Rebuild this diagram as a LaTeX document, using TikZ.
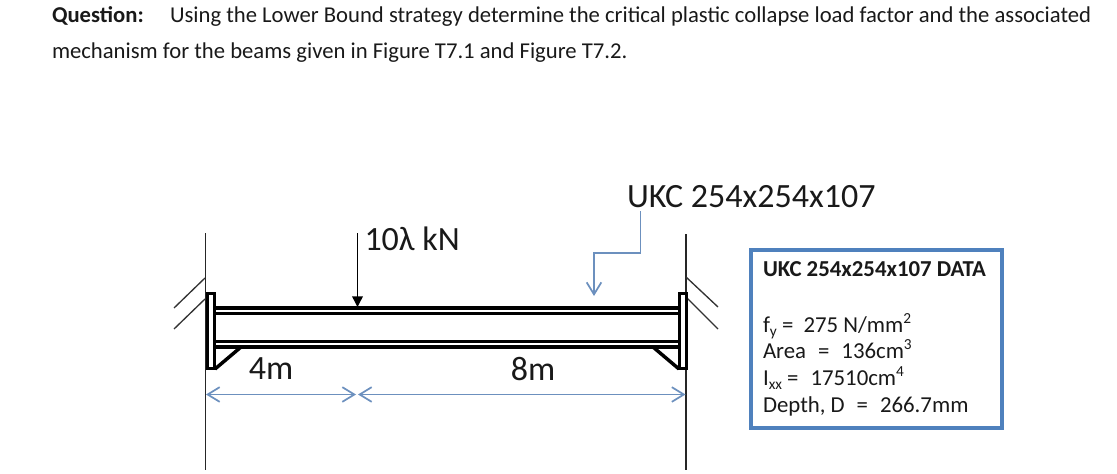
\documentclass[tikz,border=0pt]{standalone}
\usepackage{fontspec}
\setmainfont{Carlito}
\usetikzlibrary{arrows.meta}
\definecolor{dimblue}{HTML}{6C90BE}
\definecolor{boxblue}{HTML}{4F81BD}
\newcommand{\supx}[1]{\raisebox{.36em}{\fontsize{11.5pt}{11.5pt}\selectfont #1}}
\newcommand{\subx}[1]{\raisebox{-.2em}{\fontsize{11.5pt}{11.5pt}\selectfont #1}}
\tikzset{
  txt/.style={inner sep=0pt,outer sep=0pt,text=black!90},
  para/.style={txt,anchor=base west,font=\fontsize{17pt}{17pt}\selectfont},
  biglabel/.style={txt,font=\fontsize{25.5pt}{25.5pt}\selectfont},
  datatxt/.style={txt,anchor=base west,font=\fontsize{17.1pt}{17.1pt}\selectfont},
  wall/.style={draw=black!85,line width=1.2pt},
  hatch/.style={draw=black!80,line width=1pt},
  flange/.style={draw=black,line width=2.9pt},
  plate/.style={draw=black,line width=2.4pt},
  gusset/.style={draw=black,line width=2.6pt},
  loadarrow/.style={draw=black,line width=1.1pt,-{Stealth[length=8pt,width=8pt,inset=0pt]}},
  dimline/.style={draw=dimblue,line width=1.3pt,{Straight Barb[length=9pt,width=11pt,line width=1.3pt]}-{Straight Barb[length=9pt,width=11pt,line width=1.3pt]}},
  callout/.style={draw=dimblue,line width=1.3pt,-{Straight Barb[length=9pt,width=11pt,line width=1.3pt]}},
  databox/.style={draw=boxblue,line width=3pt,fill=white,inner sep=0pt}
}
\begin{document}
\begin{tikzpicture}[x=0.75pt,y=-0.75pt]
\useasboundingbox (0,0) rectangle (1117,474);
% text
\node[para] (q) at (52,23) {\textbf{Question:}};
\node[para] (q1) at (170,23) {Using the Lower Bound strategy determine the critical plastic collapse load factor and the associated};
\node[para] (q2) at (52,59) {mechanism for the beams given in Figure T7.1 and Figure T7.2.};
% walls
\coordinate (lwt) at (205.5,233);
\coordinate (lwb) at (205.5,470);
\coordinate (rwt) at (686,234);
\coordinate (rwb) at (686,470);
\draw[wall] (lwt) -- (lwb);
\draw[wall] (rwt) -- (rwb);
% hatches
\coordinate (lh1a) at (205,278); \coordinate (lh1b) at (174,308);
\coordinate (lh2a) at (205,299); \coordinate (lh2b) at (174,329);
\coordinate (rh1a) at (686,277); \coordinate (rh1b) at (718,307);
\coordinate (rh2a) at (687,298); \coordinate (rh2b) at (718,329);
\draw[hatch] (lh1a) -- (lh1b);
\draw[hatch] (lh2a) -- (lh2b);
\draw[hatch] (rh1a) -- (rh1b);
\draw[hatch] (rh2a) -- (rh2b);
% end plates
\draw[plate,fill=white] (207.5,293.5) rectangle (214.5,368.5);
\draw[plate,fill=white] (679.5,293.5) rectangle (686.5,368.5);
% flanges
\coordinate (tl1) at (215,308); \coordinate (tr1) at (679,308);
\coordinate (tl2) at (215,313.5); \coordinate (tr2) at (679,313.5);
\coordinate (bl1) at (215,341.5); \coordinate (br1) at (679,341.5);
\coordinate (bl2) at (215,347); \coordinate (br2) at (679,347);
\draw[flange] (tl1) -- (tr1);
\draw[flange] (tl2) -- (tr2);
\draw[flange] (bl1) -- (br1);
\draw[flange] (bl2) -- (br2);
% gussets
\coordinate (gl1) at (215,369); \coordinate (gl2) at (241,347);
\coordinate (gr1) at (653,347); \coordinate (gr2) at (679,369);
\draw[gusset] (gl1) -- (gl2);
\draw[gusset] (gr1) -- (gr2);
% load
\coordinate (lt) at (357.5,233);
\coordinate (lb) at (357.5,307);
\draw[loadarrow] (lt) -- (lb);
\node[biglabel,anchor=west] (load) at (364.5,239) {10λ kN};
% dims
\coordinate (d1) at (206,394.5);
\coordinate (d2) at (356,394.5);
\coordinate (d3) at (358,394.5);
\coordinate (d4) at (685.5,394.5);
\draw[dimline] (d1) -- (d2);
\draw[dimline] (d3) -- (d4);
\node[biglabel] (dl) at (271,369) {4m};
\node[biglabel] (dr) at (533,369) {8m};
% section callout
\node[biglabel,anchor=west] (ukc) at (627,197) {UKC 254x254x107};
\coordinate (ct) at (640.5,211);
\coordinate (cm1) at (640.5,253);
\coordinate (cm2) at (594,253);
\coordinate (cb) at (594,296);
\draw[callout] (ct) -- (cm1) -- (cm2) -- (cb);
% data box
\draw[databox] (750.5,250) rectangle (1002,428);
\node[datatxt,font=\fontsize{17.1pt}{17.1pt}\selectfont\bfseries] (dt) at (763,276) {UKC 254x254x107 DATA};
\node[datatxt] (d1t) at (763,332) {f\subx{y} =\hspace{.22em} 275 N/mm\supx{2}};
\node[datatxt] (d2t) at (763,358) {Area \hspace{.3em}=\hspace{.3em} 136cm\supx{3}};
\node[datatxt] (d3t) at (763,385) {I\subx{xx} =\hspace{.3em} 17510cm\supx{4}};
\node[datatxt] (d4t) at (763,412) {Depth, D \hspace{.3em}=\hspace{.3em} 266.7mm};
\end{tikzpicture}
\end{document}
